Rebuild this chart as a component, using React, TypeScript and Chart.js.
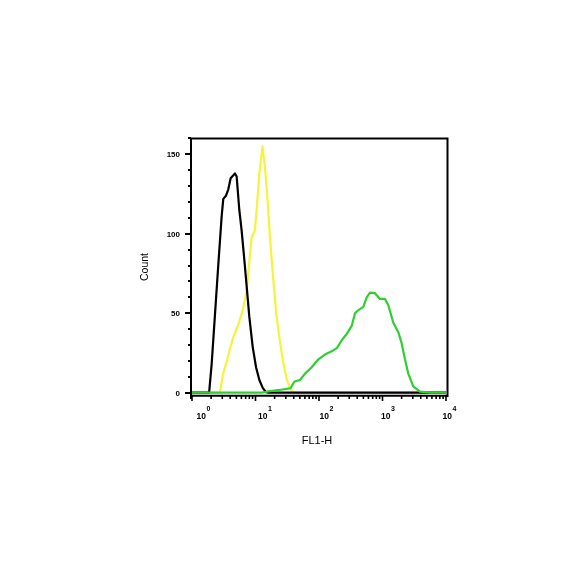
import React, { useEffect, useRef } from "react";
import { Chart, registerables } from "chart.js";

Chart.register(...registerables);

// FL1-H intensity (x) and Count (y) for each histogram
const greenX = [1, 12.6, 15.1, 24, 35.5, 41.1, 50.1, 60.3, 76.7, 97.7, 124, 158, 191, 228, 273, 327, 369, 417, 499, 564, 635, 762, 912, 1094, 1236, 1479, 1778, 2005, 2259, 2547, 3055, 3890, 5623, 10000];
const greenY = [0, 0, 0.6, 1.7, 2.8, 7, 8, 12, 16, 21, 24, 26, 28, 33, 37, 42, 50, 52, 54, 60, 63, 62.6, 59, 59, 55, 44, 38, 31, 21, 12, 4, 0.6, 0, 0];

const blackX = [1, 1.86, 2.04, 2.29, 2.6, 2.93, 3.11, 3.43, 3.73, 4.06, 4.75, 5.05, 5.56, 6.05, 6.59, 7.26, 7.98, 9.02, 10.2, 11.5, 13.0, 14.6, 16, 10000];
const blackY = [0, 0, 18, 48, 81, 111, 122, 124, 128, 135, 138, 136, 115, 102, 86, 67, 48, 29, 16, 8, 3, 0.3, 0, 0];

const yellowX = [1, 2.75, 3.09, 3.55, 3.98, 4.47, 5.37, 6.31, 7.24, 8.13, 8.71, 9.77, 10.5, 11.5, 12.9, 14.1, 15.5, 17.0, 19.1, 21.4, 24.5, 27.5, 30.9, 34.7, 39.8, 10000];
const yellowY = [0, 0, 12, 20, 28, 35, 43, 52, 64, 86, 98, 102, 117, 138, 155, 142, 121, 96, 71, 48, 31, 18.5, 9, 3, 0, 0];

const yMajorTicks = [0, 50, 100, 150];
const yMinorTicks = [10, 20, 30, 40, 60, 70, 80, 90, 110, 120, 130, 140, 160];
const xDecades = [0, 1, 2, 3, 4];

const xTitle = "FL1-H";
const yTitle = "Count";

const toPoints = (xs: number[], ys: number[]) => xs.map((x, i) => ({ x, y: ys[i] }));

const FONT = '"Liberation Sans", Arial, sans-serif';

const axesPlugin = {
  id: "flowAxes",
  afterDraw(chart: any) {
    const ctx = chart.ctx as CanvasRenderingContext2D;
    const xs = chart.scales.x;
    const ys = chart.scales.y;
    const ca = chart.chartArea;
    const left = ca.left - 1;
    const bottom = ca.bottom;
    ctx.save();
    ctx.strokeStyle = "#000";
    ctx.fillStyle = "#000";
    ctx.lineWidth = 2;
    // frame
    ctx.beginPath();
    ctx.moveTo(left - 1, ca.top + 0.5);
    ctx.lineTo(ca.right + 2.5, ca.top + 0.5);
    ctx.moveTo(ca.right + 1.5, ca.top);
    ctx.lineTo(ca.right + 1.5, bottom + 1);
    // y axis
    ctx.moveTo(left, ca.top);
    ctx.lineTo(left, bottom + 3);
    // x axis
    ctx.moveTo(left - 1, bottom - 0.3);
    ctx.lineTo(ca.right + 2.5, bottom - 0.3);
    ctx.stroke();

    // y ticks
    ctx.beginPath();
    yMajorTicks.forEach((v) => {
      const py = Math.round(ys.getPixelForValue(v));
      ctx.moveTo(left - 6, py);
      ctx.lineTo(left, py);
    });
    yMinorTicks.forEach((v) => {
      const py = Math.round(ys.getPixelForValue(v));
      ctx.moveTo(left - 3, py);
      ctx.lineTo(left, py);
    });
    ctx.stroke();

    ctx.font = `bold 8px ${FONT}`;
    ctx.textAlign = "right";
    ctx.textBaseline = "middle";
    yMajorTicks.forEach((v) => {
      const py = ys.getPixelForValue(v);
      ctx.fillText(String(v), left - 11, py + 0.8);
    });

    // x ticks
    ctx.lineWidth = 1.6;
    ctx.beginPath();
    xDecades.forEach((d, i) => {
      const px = xs.getPixelForValue(Math.pow(10, d));
      ctx.moveTo(px, bottom);
      ctx.lineTo(px, bottom + 5);
      if (i < xDecades.length - 1) {
        for (let m = 2; m <= 9; m++) {
          const mx = xs.getPixelForValue(m * Math.pow(10, d));
          ctx.moveTo(mx, bottom);
          ctx.lineTo(mx, bottom + 3);
        }
      }
    });
    ctx.stroke();

    xDecades.forEach((d, i) => {
      const px = xs.getPixelForValue(Math.pow(10, d));
      const lx = px + 4.5 - 2 * i;
      ctx.textAlign = "left";
      ctx.textBaseline = "alphabetic";
      ctx.font = `bold 8.5px ${FONT}`;
      ctx.fillText("10", lx, bottom + 22.5);
      const w = ctx.measureText("10").width;
      ctx.font = `bold 7px ${FONT}`;
      ctx.fillText(String(d), lx + w + 0.5, bottom + 15);
    });

    // titles
    ctx.font = `11px ${FONT}`;
    ctx.textAlign = "center";
    ctx.textBaseline = "alphabetic";
    ctx.fillText(xTitle, (ca.left + ca.right) / 2 - 2, bottom + 47.5);

    ctx.save();
    ctx.translate(148.3, 267);
    ctx.rotate(-Math.PI / 2);
    ctx.font = `10.5px ${FONT}`;
    ctx.textAlign = "center";
    ctx.textBaseline = "alphabetic";
    ctx.fillText(yTitle, 0, 0);
    ctx.restore();

    ctx.restore();
  },
};

export default function App() {
  const ref = useRef<HTMLCanvasElement | null>(null);
  useEffect(() => {
    if (!ref.current) return;
    const common = {
      borderWidth: 2.2,
      pointRadius: 0,
      tension: 0,
      fill: false,
      borderJoinStyle: "round" as const,
      borderCapStyle: "round" as const,
    };
    const chart = new Chart(ref.current, {
      type: "line",
      data: {
        datasets: [
          { label: "green", data: toPoints(greenX, greenY), borderColor: "#2fcf2f", ...common },
          { label: "black", data: toPoints(blackX, blackY), borderColor: "#000000", ...common },
          { label: "yellow", data: toPoints(yellowX, yellowY), borderColor: "#f4f43c", ...common },
        ],
      },
      options: {
        responsive: false,
        animation: false,
        devicePixelRatio: 1,
        parsing: false as any,
        layout: { padding: { left: 192, top: 138, right: 138, bottom: 188 } },
        scales: {
          x: { type: "logarithmic", min: 1, max: 10000, display: false },
          y: { type: "linear", min: -2.1, max: 160.3, display: false },
        },
        plugins: { legend: { display: false }, tooltip: { enabled: false } },
      },
      plugins: [axesPlugin],
    });
    return () => chart.destroy();
  }, []);
  return (
    <div style={{ position: "fixed", left: 0, top: 0, width: 584, height: 584, background: "#fff" }}>
      <canvas ref={ref} width={584} height={584} style={{ width: 584, height: 584 }} />
    </div>
  );
}
